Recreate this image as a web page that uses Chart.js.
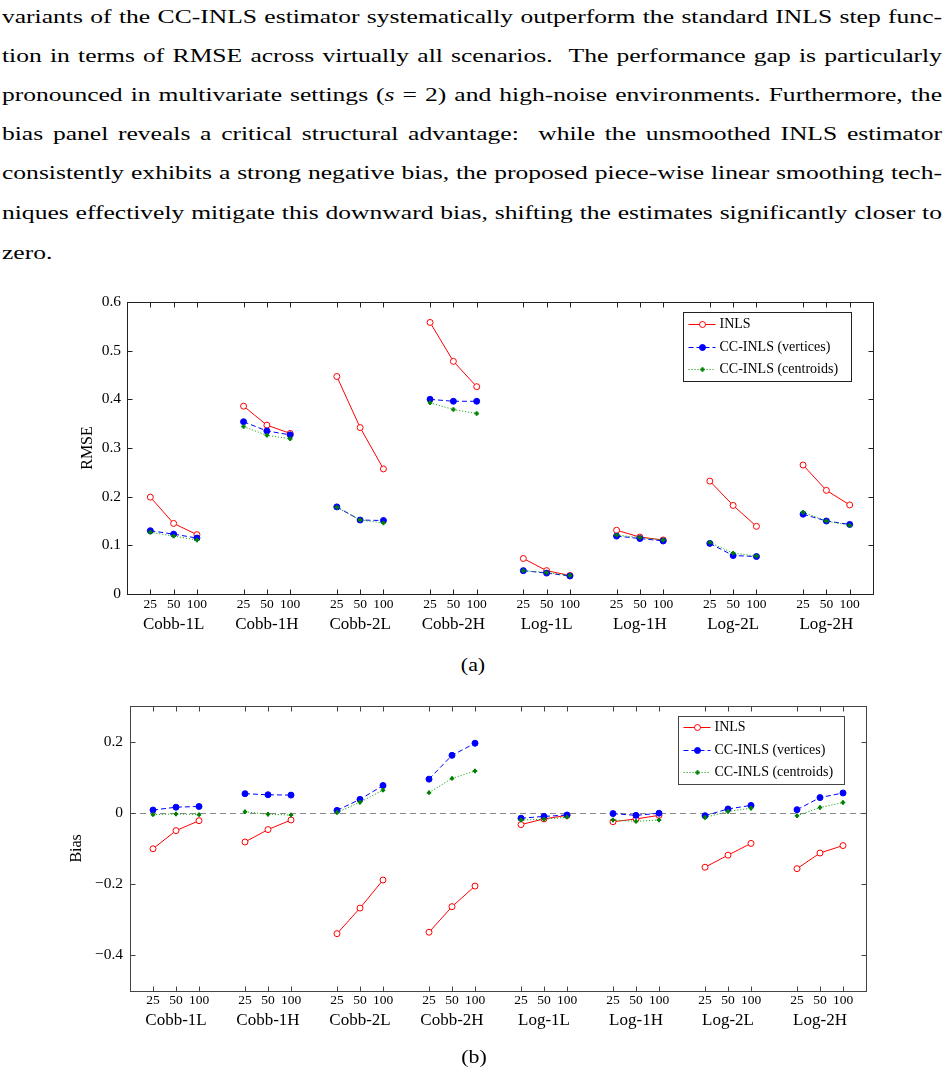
<!DOCTYPE html>
<html>
<head>
<meta charset="utf-8">
<script src="https://cdn.jsdelivr.net/npm/chart.js@4/dist/chart.umd.min.js"></script>
<style>
  html, body { margin: 0; padding: 0; background: #fff; }
  body { width: 948px; height: 1076px; position: relative; overflow: hidden; font-family: "Liberation Serif", "Times New Roman", serif; color: #000; }
  .ln { position: absolute; left: 2px; font-size: 19.5px; line-height: 24px; height: 24px; white-space: nowrap; text-align: justify; text-align-last: justify; transform-origin: 0 0; }
  .ln.last { text-align-last: left; }
  .ln span { display: inline; }
  .cap { position: absolute; width: 60px; text-align: center; font-size: 19px; line-height: 24px; transform: scaleX(1.15); }
  canvas { position: absolute; }
</style>
</head>
<body>
<div class="ln" style="top:5px"><span>variants of the CC-INLS estimator systematically outperform the standard INLS step func-</span></div>
<div class="ln" style="top:44px"><span>tion in terms of RMSE across virtually all scenarios.&nbsp; The performance gap is particularly</span></div>
<div class="ln" style="top:83px"><span>pronounced in multivariate settings (<i>s</i> = 2) and high-noise environments. Furthermore, the</span></div>
<div class="ln" style="top:122px"><span>bias panel reveals a critical structural advantage:&nbsp; while the unsmoothed INLS estimator</span></div>
<div class="ln" style="top:161px"><span>consistently exhibits a strong negative bias, the proposed piece-wise linear smoothing tech-</span></div>
<div class="ln" style="top:201px"><span>niques effectively mitigate this downward bias, shifting the estimates significantly closer to</span></div>
<div class="ln last" style="top:241px"><span>zero.</span></div>

<div style="position:absolute;left:0;top:285px;width:948px;height:365px"><canvas id="c1" width="948" height="365"></canvas></div>
<div class="cap" style="left:443px;top:653px">(a)</div>
<div style="position:absolute;left:0;top:690px;width:948px;height:357px"><canvas id="c2" width="948" height="357"></canvas></div>
<div class="cap" style="left:444px;top:1045px">(b)</div>

<script>
// fit paragraph lines (uniform horizontal stretch, justified)
(function(){
  const lines = Array.from(document.querySelectorAll('.ln'));
  let maxW = 0;
  lines.forEach(l => { if (!l.classList.contains('last')) maxW = Math.max(maxW, l.querySelector('span').getBoundingClientRect().width); });
  const target = 940;
  const s = target / (maxW + 4);
  lines.forEach(l => { l.style.width = (target / s) + 'px'; l.style.transform = 'scaleX(' + s + ')'; });
})();
</script>

<script>
// ---------------- data ----------------
const groups = ['Cobb-1L','Cobb-1H','Cobb-2L','Cobb-2H','Log-1L','Log-1H','Log-2L','Log-2H'];
const sampleSizes = ['25','50','100'];
const seriesLabels = ['INLS','CC-INLS (vertices)','CC-INLS (centroids)'];

const rmseINLS = [0.199,0.145,0.122, 0.386,0.347,0.330, 0.447,0.342,0.257, 0.558,0.478,0.426,
                  0.073,0.048,0.038, 0.131,0.117,0.111, 0.232,0.182,0.139, 0.265,0.213,0.183];
const rmseVert = [0.130,0.123,0.115, 0.354,0.335,0.327, 0.179,0.152,0.151, 0.400,0.396,0.396,
                  0.048,0.043,0.037, 0.119,0.114,0.109, 0.104,0.079,0.077, 0.164,0.150,0.143];
const rmseCent = [0.127,0.119,0.111, 0.344,0.326,0.319, 0.178,0.152,0.146, 0.393,0.379,0.371,
                  0.048,0.044,0.038, 0.121,0.116,0.111, 0.106,0.084,0.078, 0.168,0.150,0.141];

const biasINLS = [-0.101,-0.050,-0.022, -0.082,-0.047,-0.020, -0.340,-0.268,-0.189, -0.336,-0.264,-0.206,
                  -0.033,-0.017,-0.007, -0.025,-0.017,-0.007, -0.153,-0.119,-0.086, -0.157,-0.113,-0.092];
const biasVert = [0.008,0.016,0.018, 0.054,0.051,0.050, 0.007,0.038,0.077, 0.095,0.162,0.196,
                  -0.015,-0.010,-0.006, -0.002,-0.007,-0.001, -0.008,0.011,0.021, 0.009,0.043,0.056];
const biasCent = [-0.005,-0.003,-0.005, 0.003,-0.004,-0.006, 0.001,0.030,0.064, 0.057,0.097,0.118,
                  -0.020,-0.018,-0.012, -0.020,-0.024,-0.020, -0.013,0.004,0.013, -0.008,0.015,0.029];

const rmseTicks = [0,0.1,0.2,0.3,0.4,0.5,0.6];
const biasTicks = [-0.4,-0.2,0,0.2];

// ---------------- helpers ----------------
const SERIF = '"Liberation Serif", "Times New Roman", serif';
const GROUP_STEP = 4;
const xPositions = [];
groups.forEach((g,gi)=>sampleSizes.forEach((s,k)=>xPositions.push(gi*GROUP_STEP+k)));
const groupCenters = groups.map((g,gi)=>gi*GROUP_STEP+1);

function toPoints(vals){
  const pts = [];
  vals.forEach((v,i)=>{
    const gi = Math.floor(i/3), k = i%3;
    pts.push({x: gi*GROUP_STEP+k, y: v});
    if (k===2) pts.push({x: gi*GROUP_STEP+3, y: null});
  });
  return pts;
}

const styles = [
  {borderColor:'#ff0000', borderDash:[], pointRadius:3, bg:'#ffffff'},
  {borderColor:'#0000ff', borderDash:[5,3], pointRadius:3, bg:'#0000ff'},
  {borderColor:'#1fa81f', borderDash:[1.2,1.8], pointRadius:2.2, bg:'#008000', pointColor:'#008000'}
];

function makeDatasets(arrs){
  return arrs.map((a,i)=>{
    const s = styles[i];
    return {
      label: seriesLabels[i],
      data: toPoints(a),
      borderColor: s.borderColor,
      borderWidth: 1,
      borderDash: s.borderDash,
      pointStyle: i===2 ? 'cross' : 'circle',
      pointRadius: s.pointRadius,
      pointBackgroundColor: s.bg,
      pointBorderColor: s.pointColor || s.borderColor,
      pointBorderWidth: i===2 ? 2 : 1,
      spanGaps: false,
      tension: 0,
      order: 3-i
    };
  });
}

function drawMarker(ctx, i, x, y){
  const s = styles[i];
  ctx.save();
  ctx.setLineDash([]);
  if (i===2){
    ctx.strokeStyle = s.pointColor; ctx.lineWidth = 2;
    ctx.beginPath(); ctx.moveTo(x-2.2,y); ctx.lineTo(x+2.2,y); ctx.moveTo(x,y-2.2); ctx.lineTo(x,y+2.2); ctx.stroke();
  } else {
    ctx.beginPath(); ctx.arc(x,y,s.pointRadius,0,Math.PI*2);
    ctx.fillStyle = s.bg; ctx.fill();
    ctx.strokeStyle = s.borderColor; ctx.lineWidth = 1; ctx.stroke();
  }
  ctx.restore();
}

function framePlugin(frameColor, zeroLine){
  return {
    id: 'frame',
    beforeDatasetsDraw(chart){
      if (!zeroLine) return;
      const ctx = chart.ctx, a = chart.chartArea, y = Math.round(chart.scales.y.getPixelForValue(0))+0.5;
      ctx.save(); ctx.strokeStyle = '#8a8a8a'; ctx.lineWidth = 1; ctx.setLineDash([6,4]);
      ctx.beginPath(); ctx.moveTo(a.left, y); ctx.lineTo(a.right, y); ctx.stroke(); ctx.restore();
    },
    afterDatasetsDraw(chart){
      const ctx = chart.ctx, a = chart.chartArea;
      const L = Math.round(a.left)+0.5, R = Math.round(a.right)+0.5, T = Math.round(a.top)+0.5, B = Math.round(a.bottom)+0.5;
      ctx.save();
      ctx.strokeStyle = frameColor; ctx.lineWidth = 1; ctx.setLineDash([]);
      ctx.strokeRect(L, T, R-L, B-T);
      const tl = 5;
      ctx.beginPath();
      chart.scales.x.ticks.forEach(t=>{
        const x = Math.round(chart.scales.x.getPixelForValue(t.value))+0.5;
        ctx.moveTo(x,B); ctx.lineTo(x,B-tl);
        ctx.moveTo(x,T); ctx.lineTo(x,T+tl);
      });
      chart.scales.y.ticks.forEach(t=>{
        const y = Math.round(chart.scales.y.getPixelForValue(t.value))+0.5;
        ctx.moveTo(L,y); ctx.lineTo(L+tl,y);
        ctx.moveTo(R,y); ctx.lineTo(R-tl,y);
      });
      ctx.stroke();
      ctx.restore();
    }
  };
}

function legendPlugin(o){
  return {
    id: 'boxLegend',
    afterDraw(chart){
      const ctx = chart.ctx, a = chart.chartArea;
      const x0 = Math.round(a.right - o.right - o.w)+0.5, y0 = Math.round(a.top + o.top)+0.5;
      ctx.save();
      ctx.fillStyle = '#fff'; ctx.fillRect(x0, y0, o.w, o.h);
      ctx.strokeStyle = o.color; ctx.lineWidth = 1; ctx.strokeRect(x0, y0, o.w, o.h);
      chart.data.datasets.forEach((ds,i)=>{
        const y = Math.round(y0 + o.rows[i]) + 0.5;
        ctx.strokeStyle = ds.borderColor; ctx.lineWidth = 1; ctx.setLineDash(ds.borderDash);
        ctx.beginPath(); ctx.moveTo(x0+5, y); ctx.lineTo(x0+32, y); ctx.stroke();
        drawMarker(ctx, i, x0+19, y);
        ctx.setLineDash([]);
        ctx.fillStyle = '#000'; ctx.font = o.font; ctx.textBaseline = 'middle'; ctx.textAlign = 'left';
        ctx.fillText(ds.label, x0+36, y);
      });
      ctx.restore();
    }
  };
}

function makeChart(id, cfg){
  const yTickVals = cfg.yTicks;
  return new Chart(document.getElementById(id), {
    type: 'line',
    data: { datasets: makeDatasets(cfg.series) },
    options: {
      responsive: false,
      animation: false,
      events: [],
      layout: { padding: { top: cfg.padTop, right: cfg.padRight, left: 0, bottom: 0 } },
      plugins: { legend: { display: false }, tooltip: { enabled: false } },
      scales: {
        x: {
          type: 'linear', position: 'bottom', min: -1, max: 31, weight: 0,
          grid: { display: false, drawTicks: false }, border: { display: false },
          afterBuildTicks: s => { s.ticks = xPositions.map(v=>({value:v})); },
          afterFit: s => { s.height = 20; },
          ticks: { autoSkip: false, maxRotation: 0, padding: 2, color: '#000',
                   font: { family: SERIF, size: 13.5 },
                   callback: v => sampleSizes[((v%GROUP_STEP)+GROUP_STEP)%GROUP_STEP] }
        },
        x2: {
          type: 'linear', position: 'bottom', min: -1, max: 31, weight: 1,
          grid: { display: false, drawTicks: false }, border: { display: false },
          afterBuildTicks: s => { s.ticks = groupCenters.map(v=>({value:v})); },
          afterFit: s => { s.height = cfg.x2h; },
          ticks: { autoSkip: false, maxRotation: 0, padding: 0, color: '#000',
                   font: { family: SERIF, size: 17 },
                   callback: v => groups[Math.round((v-1)/GROUP_STEP)] }
        },
        y: {
          type: 'linear', position: 'left', min: cfg.yMin, max: cfg.yMax,
          grid: { display: false, drawTicks: false }, border: { display: false },
          afterBuildTicks: s => { s.ticks = yTickVals.map(v=>({value:v})); },
          afterFit: s => { s.width = cfg.yWidth; },
          title: { display: true, text: cfg.yTitle, color: '#000', font: { family: SERIF, size: 16 },
                   padding: { top: cfg.titleOffset, bottom: 0 } },
          ticks: { padding: cfg.yTickPad, color: '#000', font: { family: SERIF, size: 15.5 },
                   callback: v => (v<0 ? '\u2212' : '') + String(Math.round(Math.abs(v)*10)/10) }
        }
      }
    },
    plugins: [framePlugin(cfg.frameColor, cfg.zeroLine), legendPlugin(cfg.legend)]
  });
}

makeChart('c1', {
  series: [rmseINLS, rmseVert, rmseCent],
  yMin: 0, yMax: 0.6, yTicks: rmseTicks, yTitle: 'RMSE',
  padTop: 17, padRight: 75, yWidth: 127, x2h: 36, yTickPad: 6, titleOffset: 78,
  frameColor: '#222', zeroLine: false,
  legend: { right: 22, top: 10, w: 168, h: 69, rows: [11, 34, 56.5], color: '#222', font: '14px "Liberation Serif"' }
});

makeChart('c2', {
  series: [biasINLS, biasVert, biasCent],
  yMin: -0.5, yMax: 0.3, yTicks: biasTicks, yTitle: 'Bias',
  padTop: 13, padRight: 82, yWidth: 130, x2h: 36.5, yTickPad: 7, titleOffset: 67,
  frameColor: '#444', zeroLine: true,
  legend: { right: 22, top: 9.5, w: 166, h: 68, rows: [10.5, 33, 55.5], color: '#444', font: '14px "Liberation Serif"' }
});
</script>
</body>
</html>
